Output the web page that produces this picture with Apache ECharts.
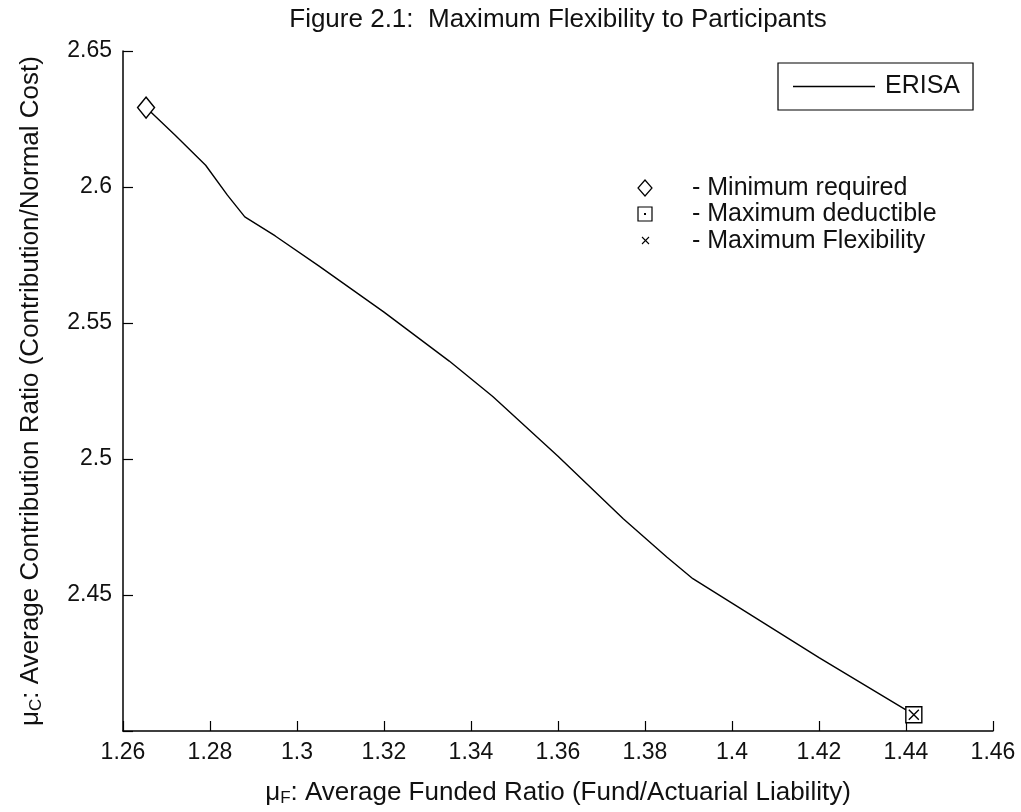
<!DOCTYPE html>
<html>
<head>
<meta charset="utf-8">
<script src="https://cdn.jsdelivr.net/npm/echarts@6/dist/echarts.min.js"></script>
<style>
html,body{margin:0;padding:0;background:#fff;}
#chart{width:1021px;height:812px;}
</style>
</head>
<body>
<div id="chart"></div>
<script>
// ---- data ----
const titleText = 'Figure 2.1:  Maximum Flexibility to Participants';
const seriesName = 'ERISA';
const fundedRatio = [1.2653, 1.2720, 1.2790, 1.2840, 1.2880, 1.2950, 1.3050, 1.3200, 1.3350, 1.3450, 1.3600, 1.3750, 1.3850, 1.3910, 1.4000, 1.4200, 1.4418];
const contribRatio = [2.6292, 2.6190, 2.6080, 2.5970, 2.5890, 2.5820, 2.5710, 2.5540, 2.5360, 2.5230, 2.5010, 2.4780, 2.4640, 2.4560, 2.4470, 2.4270, 2.4060];
const minimumRequired = [1.2653, 2.6292];
const maximumDeductible = [1.4418, 2.4060];
const maximumFlexibility = [1.4418, 2.4060];
const xMin = 1.26, xMax = 1.46, xStep = 0.02;
const yMin = 2.40, yMax = 2.65, yStep = 0.05;
const annotationLabels = ['- Minimum required', '- Maximum deductible', '- Maximum Flexibility'];

const FONT = '"Liberation Sans", Arial, sans-serif';
const INK = '#111';
const W = 1021, GRID_L = 123, GRID_R = 28;
const titleX = GRID_L + (W - GRID_L - GRID_R) / 2;

const chart = echarts.init(document.getElementById('chart'), null, {renderer: 'canvas'});
const lineData = fundedRatio.map((x, i) => [x, contribRatio[i]]);
const xPath = 'path://M0,0L10,10M10,0L0,10';

const nameRich = {
  mu: {fontFamily: FONT, fontSize: 26, color: INK},
  sub: {fontFamily: FONT, fontSize: 17, color: INK, padding: [12, 0, 0, 0]},
  t: {fontFamily: FONT, fontSize: 26, color: INK}
};

const option = {
  animation: false,
  backgroundColor: '#fff',
  grid: {left: GRID_L, right: GRID_R, top: 51, bottom: 79, containLabel: false},
  legend: {
    data: [{name: seriesName, icon: 'rect'}],
    left: 778, top: 63,
    orient: 'horizontal',
    padding: [11, 13, 11, 15],
    itemWidth: 82, itemHeight: 1.5,
    borderColor: '#000', borderWidth: 1.2,
    backgroundColor: '#fff',
    selectedMode: false,
    itemStyle: {color: '#000', borderWidth: 0},
    textStyle: {fontFamily: FONT, fontSize: 25, color: INK, padding: [0, 0, 0, 5]}
  },
  xAxis: {
    type: 'value', min: xMin, max: xMax, interval: xStep,
    name: '{mu|μ}{sub|F}{t|: Average Funded Ratio (Fund/Actuarial Liability)}',
    nameLocation: 'middle', nameGap: 47,
    nameTextStyle: {fontFamily: FONT, fontSize: 26, color: INK, rich: nameRich},
    axisLine: {onZero: false, lineStyle: {color: '#000', width: 1.5}},
    axisTick: {inside: true, length: 10, lineStyle: {color: '#000', width: 1.2}},
    axisLabel: {margin: 10, fontFamily: FONT, fontSize: 23, color: INK,
      formatter: v => String(+v.toFixed(2))},
    splitLine: {show: false}
  },
  yAxis: {
    type: 'value', min: yMin, max: yMax, interval: yStep,
    name: '{mu|μ}{sub|C}{t|: Average Contribution Ratio (Contribution/Normal Cost)}',
    nameLocation: 'middle', nameGap: 78,
    nameTextStyle: {fontFamily: FONT, fontSize: 26, color: INK, rich: nameRich},
    axisLine: {onZero: false, lineStyle: {color: '#000', width: 1.5}},
    axisTick: {inside: true, length: 10, lineStyle: {color: '#000', width: 1.2}},
    axisLabel: {margin: 11, fontFamily: FONT, fontSize: 23, color: INK,
      formatter: v => Math.abs(v - yMin) < 1e-9 ? '' : String(+v.toFixed(2))},
    splitLine: {show: false}
  },
  series: [
    {
      name: seriesName, type: 'line', data: lineData,
      symbol: 'none', smooth: false,
      lineStyle: {color: '#000', width: 1.4},
      itemStyle: {color: '#000'},
      z: 2
    },
    {
      name: 'Minimum required', type: 'scatter', data: [minimumRequired],
      symbol: 'diamond', symbolSize: [17, 21],
      itemStyle: {color: '#fff', borderColor: '#000', borderWidth: 1.4, opacity: 1},
      z: 3
    },
    {
      name: 'Maximum deductible', type: 'scatter', data: [maximumDeductible],
      symbol: 'rect', symbolSize: 16,
      itemStyle: {color: '#fff', borderColor: '#000', borderWidth: 1.4, opacity: 1},
      z: 3
    },
    {
      name: 'Maximum Flexibility', type: 'scatter', data: [maximumFlexibility],
      symbol: xPath, symbolSize: 10,
      itemStyle: {color: 'none', borderColor: '#000', borderWidth: 1.4, opacity: 1},
      z: 4
    }
  ],
  graphic: [
    {type: 'text', x: titleX, y: 20,
      style: {text: titleText, font: '26px ' + FONT, fill: INK, textAlign: 'center', textVerticalAlign: 'middle'}},
    // annotation key
    {type: 'polygon', shape: {points: [[645, 180], [652, 188], [645, 196], [638, 188]]},
      style: {fill: '#fff', stroke: '#000', lineWidth: 1.2}},
    {type: 'rect', shape: {x: 638, y: 207, width: 14, height: 14},
      style: {fill: '#fff', stroke: '#000', lineWidth: 1.2}},
    {type: 'rect', shape: {x: 644, y: 213, width: 2, height: 2}, style: {fill: '#000'}},
    {type: 'polyline', shape: {points: [[642, 237], [649, 244]]}, style: {stroke: '#000', lineWidth: 1.1}},
    {type: 'polyline', shape: {points: [[649, 237], [642, 244]]}, style: {stroke: '#000', lineWidth: 1.1}},
    {type: 'text', x: 692, y: 188, style: {text: annotationLabels[0], font: '25px ' + FONT, fill: INK, textVerticalAlign: 'middle'}},
    {type: 'text', x: 692, y: 214, style: {text: annotationLabels[1], font: '25px ' + FONT, fill: INK, textVerticalAlign: 'middle'}},
    {type: 'text', x: 692, y: 241, style: {text: annotationLabels[2], font: '25px ' + FONT, fill: INK, textVerticalAlign: 'middle'}}
  ]
};
chart.setOption(option);
</script>
</body>
</html>
